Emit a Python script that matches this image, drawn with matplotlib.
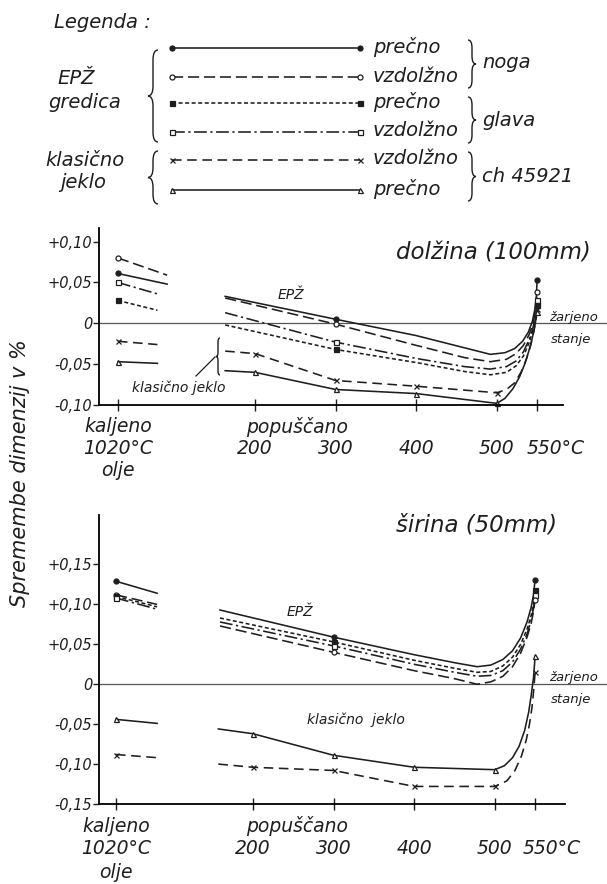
import matplotlib
matplotlib.use('Agg')
import matplotlib.pyplot as plt
import matplotlib.transforms as mtransforms
from matplotlib.path import Path
from matplotlib.patches import PathPatch

plt.rcParams['font.family'] = ['DejaVu Sans']
plt.rcParams['font.style'] = 'italic'

INK = '#1e1e1e'

# ---- data: dolzina (100 mm) ----
kal_t_long = [30, 91]
kal_t_short = [30, 79]
dol_kal_pn = [0.061, 0.048]
dol_kal_vn = [0.080, 0.059]
dol_kal_vg = [0.050, 0.036]
dol_kal_pg = [0.028, 0.016]
dol_kal_kv = [-0.022, -0.026]
dol_kal_kp = [-0.047, -0.049]

dol_pn_t = [163, 300, 400, 460, 492, 510, 522, 532, 539, 544, 547, 549, 550]
dol_pn = [0.033, 0.005, -0.015, -0.030, -0.038, -0.036, -0.031, -0.022, -0.011, 0.002, 0.016, 0.032, 0.053]
dol_epz_t = [163, 300, 400, 460, 492, 512, 524, 533, 540, 545, 548, 550]
dol_vn = [0.031, -0.001, -0.027, -0.042, -0.047, -0.044, -0.037, -0.027, -0.014, 0.000, 0.016, 0.038]
dol_vg = [0.013, -0.023, -0.043, -0.053, -0.056, -0.053, -0.046, -0.035, -0.020, -0.005, 0.010, 0.028]
dol_pg = [-0.002, -0.032, -0.048, -0.059, -0.063, -0.060, -0.052, -0.040, -0.024, -0.008, 0.006, 0.022]
dol_kv_t = [163, 200, 300, 400, 500, 512, 522, 530, 537, 542, 546, 548, 550]
dol_kv = [-0.034, -0.037, -0.070, -0.077, -0.085, -0.081, -0.073, -0.060, -0.043, -0.027, -0.010, 0.002, 0.018]
dol_kp_t = [163, 200, 300, 400, 500, 510, 520, 528, 535, 540, 544, 547, 550]
dol_kp = [-0.058, -0.060, -0.081, -0.086, -0.098, -0.092, -0.080, -0.066, -0.049, -0.033, -0.018, -0.004, 0.014]

# ---- data: sirina (50 mm) ----
kal_t_sir = [30, 81]
sir_kal_pn = [0.129, 0.114]
sir_kal_vn = [0.112, 0.100]
sir_kal_pg = [0.110, 0.097]
sir_kal_vg = [0.108, 0.094]
sir_kal_kv = [-0.088, -0.092]
sir_kal_kp = [-0.044, -0.049]

sir_epz_t = [159, 300, 400, 450, 478, 495, 510, 522, 532, 540, 545, 548, 550]
sir_pn = [0.093, 0.059, 0.037, 0.027, 0.022, 0.024, 0.031, 0.042, 0.058, 0.078, 0.096, 0.112, 0.131]
sir_pg = [0.083, 0.053, 0.030, 0.020, 0.015, 0.016, 0.023, 0.034, 0.050, 0.069, 0.086, 0.101, 0.118]
sir_vg = [0.078, 0.048, 0.025, 0.015, 0.010, 0.011, 0.017, 0.028, 0.044, 0.063, 0.080, 0.095, 0.112]
sir_vn = [0.073, 0.040, 0.017, 0.007, 0.000, 0.003, 0.010, 0.022, 0.039, 0.059, 0.076, 0.091, 0.106]
sir_kp_t = [157, 200, 300, 400, 500, 512, 522, 530, 537, 542, 545, 548, 550]
sir_kp = [-0.056, -0.062, -0.089, -0.104, -0.107, -0.102, -0.092, -0.078, -0.058, -0.035, -0.015, 0.008, 0.035]
sir_kv_t = [157, 200, 300, 400, 500, 515, 525, 533, 539, 543, 546, 548, 550]
sir_kv = [-0.100, -0.104, -0.108, -0.128, -0.128, -0.121, -0.108, -0.090, -0.070, -0.050, -0.030, -0.010, 0.015]

epz_marks = [300, 550]
kl_marks = [200, 300, 400, 500, 550]

dol_yticks = [0.10, 0.05, 0, -0.05, -0.10]
dol_ylabels = ['+0,10', '+0,05', '0', '-0,05', '-0,10']
sir_yticks = [0.15, 0.10, 0.05, 0, -0.05, -0.10, -0.15]
sir_ylabels = ['+0,15', '+0,10', '+0,05', '0', '-0,05', '-0,10', '-0,15']
xtick_t = [30, 200, 300, 400, 500, 550]

# line styles
sty = {
    'pn': dict(ls='-', marker='o', mfc=INK),
    'vn': dict(ls=(0, (7, 3)), marker='o', mfc='white'),
    'pg': dict(ls=(0, (2.5, 1.6)), marker='s', mfc=INK),
    'vg': dict(ls=(0, (8, 2.2, 1.4, 2.2)), marker='s', mfc='white'),
    'kv': dict(ls=(0, (6, 3.5)), marker='x', mfc=INK),
    'kp': dict(ls='-', marker='^', mfc='white'),
}

W, H = 607, 884
fig = plt.figure(figsize=(W / 100, H / 100), dpi=100)
fig.patch.set_facecolor('white')


def fx(px):
    return px / W


def fy(py):
    return 1 - py / H


def line(ax, t, v, key, marks=None, start_only=False):
    s = sty[key]
    if start_only:
        me = [0]
    else:
        me = [i for i, tt in enumerate(t) if tt in marks]
    ax.plot(t, v, color=INK, lw=1.15, ls=s['ls'], marker=s['marker'], ms=3.6,
            mfc=s['mfc'], mec=INK, mew=0.9, markevery=me, clip_on=False,
            dash_capstyle='butt', solid_joinstyle='round')


def setup(ax, xlim, ylim, xend, yt, yl):
    ax.set_xlim(*xlim)
    ax.set_ylim(*ylim)
    for sp in ['top', 'right']:
        ax.spines[sp].set_visible(False)
    ax.spines['left'].set_linewidth(1.3)
    ax.spines['bottom'].set_linewidth(1.3)
    ax.spines['bottom'].set_bounds(xlim[0], xend)
    ax.set_xticks(xtick_t)
    ax.set_xticklabels([])
    ax.tick_params(axis='x', direction='inout', length=8, width=1.0, color=INK)
    ax.set_yticks(yt)
    ax.set_yticklabels(yl, fontsize=10.5, color=INK)
    ax.tick_params(axis='y', direction='out', length=4, width=1.0, pad=1, color=INK)
    ax.axhline(0, color='#555555', lw=0.9, zorder=0)
    ax.patch.set_alpha(0)


# ---- top panel: dolzina ----
ax1 = fig.add_axes([fx(99), fy(405), (W - 99) / W, (405 - 228) / H])
setup(ax1, (6.5, 636.7), (-0.10, 0.1167), 582, dol_yticks, dol_ylabels)
line(ax1, kal_t_long, dol_kal_pn, 'pn', start_only=True)
line(ax1, kal_t_long, dol_kal_vn, 'vn', start_only=True)
line(ax1, kal_t_short, dol_kal_vg, 'vg', start_only=True)
line(ax1, kal_t_short, dol_kal_pg, 'pg', start_only=True)
line(ax1, kal_t_short, dol_kal_kv, 'kv', start_only=True)
line(ax1, kal_t_short, dol_kal_kp, 'kp', start_only=True)
line(ax1, dol_pn_t, dol_pn, 'pn', epz_marks)
line(ax1, dol_epz_t, dol_vn, 'vn', epz_marks)
line(ax1, dol_epz_t, dol_vg, 'vg', epz_marks)
line(ax1, dol_epz_t, dol_pg, 'pg', epz_marks)
line(ax1, dol_kv_t, dol_kv, 'kv', kl_marks)
line(ax1, dol_kp_t, dol_kp, 'kp', kl_marks)

# ---- bottom panel: sirina ----
ax2 = fig.add_axes([fx(99), fy(804), (W - 99) / W, (804 - 515) / H])
setup(ax2, (8.9, 639.2), (-0.15, 0.212), 587, sir_yticks, sir_ylabels)
line(ax2, kal_t_sir, sir_kal_pn, 'pn', start_only=True)
line(ax2, kal_t_sir, sir_kal_vn, 'vn', start_only=True)
line(ax2, kal_t_sir, sir_kal_pg, 'pg', start_only=True)
line(ax2, kal_t_sir, sir_kal_vg, 'vg', start_only=True)
line(ax2, kal_t_sir, sir_kal_kv, 'kv', start_only=True)
line(ax2, kal_t_sir, sir_kal_kp, 'kp', start_only=True)
line(ax2, sir_epz_t, sir_pn, 'pn', epz_marks)
line(ax2, sir_epz_t, sir_pg, 'pg', epz_marks)
line(ax2, sir_epz_t, sir_vg, 'vg', epz_marks)
line(ax2, sir_epz_t, sir_vn, 'vn', epz_marks)
line(ax2, sir_kp_t, sir_kp, 'kp', kl_marks)
line(ax2, sir_kv_t, sir_kv, 'kv', kl_marks)

# ---- overlay in pixel coordinates for legend and lettering ----
ov = fig.add_axes([0, 0, 1, 1], zorder=5)
ov.set_xlim(0, W)
ov.set_ylim(H, 0)
ov.axis('off')


def txt(x, y, s, size, ha='left', **kw):
    ov.text(x, y, s, fontsize=size, ha=ha, va='center', color=INK, **kw)


def brace(x, y0, y1, w):
    ym = (y0 + y1) / 2
    r = min(abs(w), (y1 - y0) / 4)
    h = x + w / 2
    verts = [(x, y0), (h, y0), (h, y0 + r), (h, ym - r), (h, ym), (x + w, ym),
             (h, ym), (h, ym + r), (h, y1 - r), (h, y1), (x, y1)]
    codes = [Path.MOVETO, Path.CURVE3, Path.CURVE3, Path.LINETO, Path.CURVE3,
             Path.CURVE3, Path.CURVE3, Path.CURVE3, Path.LINETO, Path.CURVE3,
             Path.CURVE3]
    ov.add_patch(PathPatch(Path(verts, codes), fill=False, lw=1.0, ec=INK))


# legend
leg_keys = ['pn', 'vn', 'pg', 'vg', 'kv', 'kp']
leg_labels = ['prečno', 'vzdolžno', 'prečno', 'vzdolžno', 'vzdolžno', 'prečno']
leg_rows = [48, 77, 103, 132, 160, 190]
txt(54, 23, 'Legenda :', 14)
for k, lab, y in zip(leg_keys, leg_labels, leg_rows):
    s = sty[k]
    ov.plot([172, 360], [y, y], color=INK, lw=1.15, ls=s['ls'], marker=s['marker'],
            ms=3.6, mfc=s['mfc'], mec=INK, mew=0.9)
    txt(373, y - 1, lab, 14)
brace(468, 40, 88, 8)
brace(468, 97, 143, 8)
brace(468, 152, 201, 8)
txt(482, 63, 'noga', 14)
txt(482, 120, 'glava', 14)
txt(482, 177, 'ch 45921', 14)
brace(158, 50, 142, -10)
brace(158, 151, 204, -10)
txt(57, 79, 'EPŽ', 14)
txt(48, 102, 'gredica', 14)
txt(45, 160, 'klasično', 14)
txt(60, 183, 'jeklo', 14)

# y label
txt(20, 473, 'Spremembe dimenzij v %', 15, ha='center', rotation=90)

# titles and annotations
txt(396, 253, 'dolžina (100mm)', 16.5)
txt(396, 525, 'širina (50mm)', 16.5)
txt(278, 295, 'EPŽ', 10)
txt(287, 612, 'EPŽ', 10)
txt(132, 388, 'klasično jeklo', 10)
txt(307, 720, 'klasično  jeklo', 10)
txt(549, 318, 'žarjeno', 9.5)
txt(551, 339, 'stanje', 9.5)
txt(549, 678, 'žarjeno', 9.5)
txt(551, 700, 'stanje', 9.5)
brace(220, 338, 375, -4)
ov.plot([215, 196], [357, 376], color=INK, lw=0.9)

# x-axis lettering
for ax, rows, pop_t, end_t in [(ax1, (427, 448, 471), 252, 537),
                               (ax2, (826, 848, 872), 255, 535)]:
    tr = mtransforms.blended_transform_factory(ax.transData, ov.transData)
    kw = dict(fontsize=13.5, va='center', color=INK, transform=tr)
    ov.text(30, rows[0], 'kaljeno', ha='center', **kw)
    ov.text(30, rows[1], '1020°C', ha='center', **kw)
    ov.text(30, rows[2], 'olje', ha='center', **kw)
    ov.text(pop_t, rows[0], 'popuščano', ha='center', **kw)
    for t in [200, 300, 400, 500]:
        ov.text(t, rows[1], str(t), ha='center', **kw)
    ov.text(end_t, rows[1], '550°C', ha='left', **kw)

fig.savefig('out.png', dpi=100, facecolor='white')
